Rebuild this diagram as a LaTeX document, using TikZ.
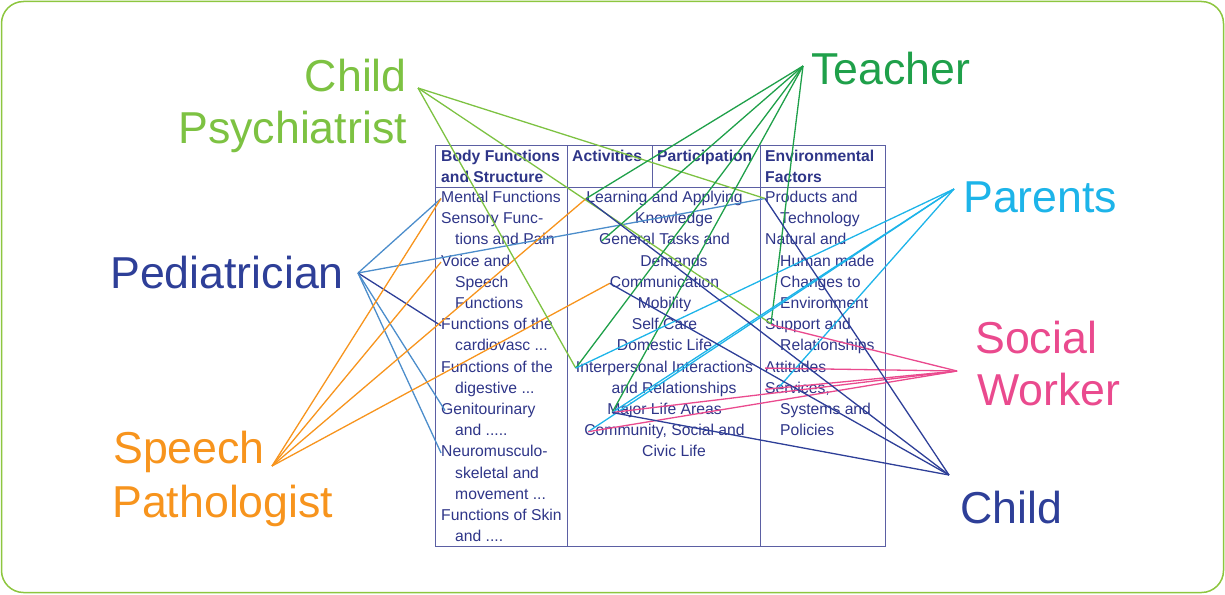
\documentclass[tikz,border=0pt]{standalone}
\usepackage{fontspec}
\setmainfont{Liberation Sans}
\usetikzlibrary{calc}
\definecolor{navy}{HTML}{2E3588}
\definecolor{tblline}{HTML}{5B5FA3}
\definecolor{frameg}{HTML}{8DC63F}
\definecolor{cpgreen}{HTML}{7DC242}
\definecolor{tgreen}{HTML}{1FA04A}
\definecolor{pcyan}{HTML}{1DB4E9}
\definecolor{spink}{HTML}{EA4A8E}
\definecolor{cblue}{HTML}{2E3F98}
\definecolor{pedblue}{HTML}{4C8DCB}
\definecolor{sorange}{HTML}{F7941D}
\newcommand\tabfnt{\fontsize{15.7pt}{18pt}\selectfont}
\newcommand\labfnt{\fontsize{44.7pt}{51pt}\selectfont}
\begin{document}
\begin{tikzpicture}[x=1pt,y=-1pt,
  cell/.style={font=\tabfnt, text=navy, inner sep=0pt, text height=11.5pt, text depth=3.5pt},
  lcell/.style={cell, anchor=west},
  ccell/.style={cell, anchor=center},
  hcell/.style={lcell, font=\tabfnt\bfseries},
  biglab/.style={font=\labfnt, inner sep=0pt},
  link/.style={line width=1.3pt},
  tbl/.style={draw=tblline, line width=1pt}]
\useasboundingbox (0,0) rectangle (1225,594);
\draw[frameg, line width=1.5pt, rounded corners=22pt] (1.5,1.5) rectangle (1223.5,592.5);

% table frame
\draw[tbl] (435.5,145) rectangle (885.5,546);
\draw[tbl] (435.5,187) -- (885.5,187);
\draw[tbl] (567,145) -- (567,546);
\draw[tbl] (652,145) -- (652,187);
\draw[tbl] (760.5,145) -- (760.5,546);

% headers
\node[hcell] (h1) at (441,157.5) {Body Functions};
\node[hcell] (h1a) at (441,178.5) {and Structure};
\node[hcell] (h2) at (572,157.5) {Activities};
\node[hcell] (h3) at (657,157.5) {Participation};
\node[hcell] (h4) at (765,157.5) {Environmental};
\node[hcell] (h4a) at (765,178.5) {Factors};

% body functions column
\node[lcell] (b1) at (441,198.5) {Mental Functions};
\node[lcell] (b2) at (441,219.7) {Sensory Func-};
\node[lcell] (b2a) at (455,240.9) {tions and Pain};
\node[lcell] (b3) at (441,262.1) {Voice and};
\node[lcell] (b3a) at (455,283.3) {Speech};
\node[lcell] (b3b) at (455,304.5) {Functions};
\node[lcell] (b4) at (441,325.7) {Functions of the};
\node[lcell] (b4a) at (455,346.9) {cardiovasc ...};
\node[lcell] (b5) at (441,368.1) {Functions of the};
\node[lcell] (b5a) at (455,389.3) {digestive ...};
\node[lcell] (b6) at (441,410.5) {Genitourinary};
\node[lcell] (b6a) at (455,431.7) {and .....};
\node[lcell] (b7) at (441,452.9) {Neuromusculo-};
\node[lcell] (b7a) at (455,474.1) {skeletal and};
\node[lcell] (b7b) at (455,495.3) {movement ...};
\node[lcell] (b8) at (441,516.5) {Functions of Skin};
\node[lcell] (b8a) at (455,537.7) {and ....};

% activities / participation column
\node[ccell] (a1) at (664.5,198.5) {Learning and Applying};
\node[ccell] (a1a) at (674,219.7) {Knowledge};
\node[ccell] (a2) at (664.5,240.9) {General Tasks and};
\node[ccell] (a2a) at (674,262.1) {Demands};
\node[ccell] (a3) at (664.5,283.3) {Communication};
\node[ccell] (a4) at (664.5,304.5) {Mobility};
\node[ccell] (a5) at (664.5,325.7) {Self Care};
\node[ccell] (a6) at (664.5,346.9) {Domestic Life};
\node[ccell] (a7) at (664.5,368.1) {Interpersonal Interactions};
\node[ccell] (a7a) at (674,389.3) {and Relationships};
\node[ccell] (a8) at (664.5,410.5) {Major Life Areas};
\node[ccell] (a9) at (664.5,431.7) {Community, Social and};
\node[ccell] (a9a) at (674,452.9) {Civic Life};

% environmental factors column
\node[lcell] (e1) at (765,198.5) {Products and};
\node[lcell] (e1a) at (780,219.7) {Technology};
\node[lcell] (e2) at (765,240.9) {Natural and};
\node[lcell] (e2a) at (780,262.1) {Human made};
\node[lcell] (e2b) at (780,283.3) {Changes to};
\node[lcell] (e2c) at (780,304.5) {Environment};
\node[lcell] (e3) at (765,325.7) {Support and};
\node[lcell] (e3a) at (780,346.9) {Relationships};
\node[lcell] (e4) at (765,368.1) {Attitudes};
\node[lcell] (e5) at (765,389.3) {Services,};
\node[lcell] (e5a) at (780,410.5) {Systems and};
\node[lcell] (e5b) at (780,431.7) {Policies};

% big labels
\node[biglab, text=cpgreen, anchor=base east] (cp1) at (407,92) {Child};
\node[biglab, text=cpgreen, anchor=base east] (cp2) at (407,143) {Psychiatrist};
\node[biglab, text=tgreen, anchor=base west] (tea) at (811,84) {Teacher};
\node[biglab, text=pcyan, anchor=base west] (par) at (963,212) {Parents};
\node[biglab, text=spink, anchor=base west] (sw1) at (975,353) {Social};
\node[biglab, text=spink, anchor=base west] (sw2) at (977,405) {Worker};
\node[biglab, text=cblue, anchor=base west] (chi) at (960,523) {Child};
\node[biglab, text=cblue, anchor=base west] (ped) at (110,288) {Pediatrician};
\node[biglab, text=sorange, anchor=base west] (sp1) at (113,463) {Speech};
\node[biglab, text=sorange, anchor=base west] (sp2) at (112,517) {Pathologist};

% hubs
\coordinate (cpHub) at (418,88);
\coordinate (tHub) at (803,66);
\coordinate (pHub) at (954,189);
\coordinate (swHub) at (957,371);
\coordinate (cHub) at (949,475);
\coordinate (pedHub) at (358,273);
\coordinate (spHub) at (272,466);

% pediatrician
\draw[link, pedblue] (pedHub) -- (b1.west);
\draw[link, pedblue] (pedHub) -- (e1.west);
\draw[link, cblue] (pedHub) -- (b4.west);
\draw[link, pedblue] (pedHub) -- ($(b6.west)+(4,0)$);
\draw[link, pedblue] (pedHub) -- (b7.west);

% speech pathologist
\draw[link, sorange] (spHub) -- (b1.west);
\draw[link, sorange] (spHub) -- (b3.west);
\draw[link, sorange] (spHub) -- (a1.west);
\draw[link, sorange] (spHub) -- (a3.west);

% child psychiatrist
\draw[link, cpgreen] (cpHub) -- (e1.west);
\draw[link, cpgreen] (cpHub) -- ($(e3.west)+(6,-2)$);
\draw[link, cpgreen] (cpHub) -- (a7.west);

% teacher
\draw[link, tgreen] (tHub) -- (a1.west);
\draw[link, tgreen] (tHub) -- ($(a2.west)+(3,0)$);
\draw[link, tgreen] (tHub) -- (a7.west);
\draw[link, tgreen] (tHub) -- ($(a8.west)+(5,2)$);
\draw[link, tgreen] (tHub) -- ($(e3.west)+(6,-2)$);

% parents
\draw[link, pcyan] (pHub) -- (a7.west);
\draw[link, pcyan] (pHub) -- ($(a8.west)+(5,2)$);
\draw[link, pcyan] (pHub) -- ($(a9.west)+(4,0)$);
\draw[link, pcyan] (pHub) -- ($(e5.west)+(13,-1)$);

% social worker
\draw[link, spink] (swHub) -- ($(e3.west)+(6,-1)$);
\draw[link, spink] (swHub) -- (e4.west);
\draw[link, spink] (swHub) -- (e5.west);
\draw[link, spink] (swHub) -- ($(a8.west)+(5,2)$);
\draw[link, spink] (swHub) -- ($(a9.west)+(4,0)$);

% child
\draw[link, cblue] (cHub) -- (e1.west);
\draw[link, cblue] (cHub) -- (a1.west);
\draw[link, cblue] (cHub) -- (a3.west);
\draw[link, cblue] (cHub) -- ($(a8.west)+(5,2)$);
\end{tikzpicture}
\end{document}
